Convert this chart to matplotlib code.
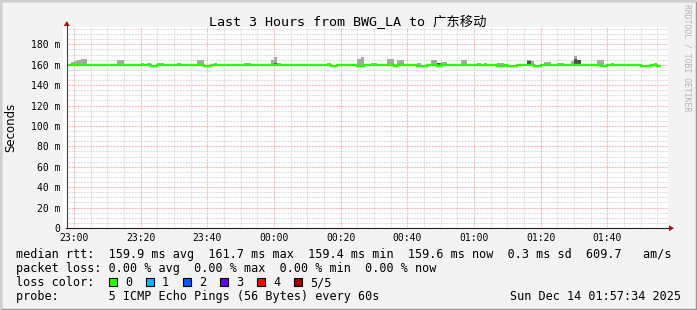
import numpy as np
import matplotlib
matplotlib.use('Agg')
import matplotlib.pyplot as plt
from matplotlib.patches import Rectangle, Polygon
from matplotlib.lines import Line2D

# ---------------- data ----------------
# minutes relative to 23:00 (one RRD step = 60 s)
minutes = list(range(-2, 176))

median_ms = [
    160, 160, 160, 160, 160, 160, 160, 160, 160, 160,            # -2..7
    160, 160, 160, 160, 160, 160, 160, 160, 160, 160,            # 8..17
    160, 160, 160, 160, 160, 158.5, 158.5, 160, 160, 160,        # 18..27
    160, 160, 160, 160, 160, 160, 160, 160, 160, 160,            # 28..37
    160, 158.5, 158.5, 160, 160, 160, 160, 160, 160, 160,        # 38..47
    160, 160, 160, 160, 160, 160, 160, 160, 160, 160,            # 48..57
    160, 160, 160, 160, 160, 160, 160, 160, 160, 160,            # 58..67
    160, 160, 160, 160, 160, 160, 160, 160, 160, 158.5,          # 68..77
    158.5, 160, 160, 160, 160, 160, 160, 158.5, 158.5, 160,      # 78..87
    160, 160, 160, 160, 160, 160, 160, 160, 158.5, 160,          # 88..97
    160, 160, 160, 160, 160, 158.5, 158.5, 158.5, 160, 160,      # 98..107
    160, 158.5, 160, 160, 160, 160, 160, 160, 160, 160,          # 108..117
    160, 160, 160, 160, 160, 160, 160, 160, 160, 158.5,          # 118..127
    158.5, 160, 158.5, 158.5, 158.5, 160, 160, 160, 160, 160,    # 128..137
    158.5, 158.5, 160, 160, 160, 160, 160, 160, 160, 160,        # 138..147
    160, 160, 160, 160, 160, 160, 160, 160, 160, 160,            # 148..157
    158.5, 158.5, 160, 160, 160, 160, 160, 160, 160, 160,        # 158..167
    160, 160, 158.5, 158.5, 158.5, 160, 160, 158.5,              # 168..175
]

smoke_top_ms = [
    160, 163, 163.5, 164.5, 166, 166, 160, 160, 160, 160,        # -2..7
    160, 160, 160, 160, 160, 164.5, 164.5, 160, 160, 160,        # 8..17
    160, 160, 162, 160, 162, 158.5, 158.5, 162, 162, 160,        # 18..27
    160, 160, 160, 162, 160, 160, 160, 160, 160, 165,            # 28..37
    165, 158.5, 158.5, 160, 162, 160, 160, 160, 160, 160,        # 38..47
    160, 160, 160, 162, 162, 160, 160, 160, 160, 160,            # 48..57
    160, 165, 168, 162, 160, 160, 160, 160, 160, 160,            # 58..67
    160, 160, 160, 160, 160, 160, 160, 160, 162, 158.5,          # 68..77
    158.5, 160, 160, 160, 160, 160, 160, 166, 168, 160,          # 78..87
    160, 162, 162, 160, 160, 160, 166, 166, 158.5, 165,          # 88..97
    165, 160, 160, 160, 160, 162, 158.5, 158.5, 160, 165,        # 98..107
    165, 158.5, 162.5, 162.5, 160, 160, 160, 160, 165, 165,      # 108..117
    160, 160, 160, 162, 160, 162, 160, 160, 160, 162,            # 118..127
    162, 160, 158.5, 158.5, 158.5, 160, 160, 160, 165, 164,      # 128..137
    158.5, 158.5, 160, 163, 163, 160, 160, 162, 162, 160,        # 138..147
    160, 164, 169, 165, 160, 160, 160, 160, 160, 165,            # 148..157
    165, 158.5, 160, 162, 160, 160, 160, 160, 160, 160,          # 158..167
    160, 160, 158.5, 158.5, 158.5, 160, 162, 158.5,              # 168..175
]

dark_minutes = [60, 109, 136, 150, 151]
dark_low_ms = [159, 160, 160, 160, 160]
dark_high_ms = [162, 161.5, 163.5, 165.5, 165]

x_tick_minutes = [0, 20, 40, 60, 80, 100, 120, 140, 160]
x_tick_labels = ['23:00', '23:20', '23:40', '00:00', '00:20', '00:40',
                 '01:00', '01:20', '01:40']
y_tick_values = [0, 20, 40, 60, 80, 100, 120, 140, 160, 180]
y_tick_labels = ['0', '20 m', '40 m', '60 m', '80 m', '100 m', '120 m',
                 '140 m', '160 m', '180 m']

title = 'Last 3 Hours from BWG_LA to 广东移动'
stat_line1 = 'median rtt:  159.9 ms avg  161.7 ms max  159.4 ms min  159.6 ms now  0.3 ms sd  609.7   am/s'
stat_line2 = 'packet loss: 0.00 % avg  0.00 % max  0.00 % min  0.00 % now'
loss_title = 'loss color:'
loss_labels = ['0', '1', '2', '3', '4', '5/5']
loss_colors = ['#26ff00', '#00b8ff', '#0059ff', '#5e00ff', '#ff0000', '#a00000']
probe_line = 'probe:       5 ICMP Echo Pings (56 Bytes) every 60s'
date_text = 'Sun Dec 14 01:57:34 2025'
watermark = 'RRDTOOL / TOBI OETIKER'

# ---------------- layout helpers ----------------
W, H = 697, 310


def fx(x):
    return x / W


def fy(y):
    return 1 - y / H


MONO = ['DejaVu Sans Mono', 'Noto Sans CJK SC']

fig = plt.figure(figsize=(W / 100, H / 100), dpi=100, facecolor='#f3f3f3')

# frame shading
fig.add_artist(Rectangle((0, 0), 1, 1, transform=fig.transFigure,
                         fill=False, edgecolor='#999999', lw=2.5, zorder=0))
fig.add_artist(Line2D([fx(1), fx(1)], [fy(0), fy(309)], transform=fig.transFigure,
                      color='#cfcfcf', lw=1.5, zorder=1))
fig.add_artist(Line2D([fx(0), fx(696)], [fy(1), fy(1)], transform=fig.transFigure,
                      color='#cfcfcf', lw=1.5, zorder=1))

# small white strip left of the axis
fig.add_artist(Rectangle((fx(63), fy(228)), fx(4), fy(27) - fy(228),
                         transform=fig.transFigure, facecolor='white',
                         edgecolor='none', zorder=0.5))

ax = fig.add_axes([fx(67), fy(228), fx(668) - fx(67), fy(27) - fy(228)])
ax.set_facecolor('white')
for s in ax.spines.values():
    s.set_visible(False)

edges = minutes + [minutes[-1] + 1]

ax.stairs(smoke_top_ms, edges, baseline=median_ms, fill=True,
          color='#a8a8a8', lw=0, zorder=2)
ax.bar(dark_minutes, np.array(dark_high_ms) - np.array(dark_low_ms),
       bottom=dark_low_ms, width=1, align='edge', color='#505050', lw=0, zorder=3)
ax.stairs(median_ms, edges, baseline=None, color='#26ff00', lw=1.7, zorder=4)

ax.set_xlim(-2.1, 178.2)
ax.set_ylim(0, 197)

ax.set_xticks(x_tick_minutes)
ax.set_xticklabels(x_tick_labels)
ax.set_xticks([m for m in range(0, 180, 5) if m not in x_tick_minutes], minor=True)
ax.set_yticks(y_tick_values)
ax.set_yticklabels(y_tick_labels)
ax.set_yticks([v for v in range(0, 200, 5) if v not in y_tick_values], minor=True)

ax.tick_params(which='both', length=0)
ax.tick_params(axis='x', which='major', pad=3.4, labelsize=7)
ax.tick_params(axis='y', which='major', pad=5, labelsize=7)
for lab in ax.get_xticklabels() + ax.get_yticklabels():
    lab.set_family('DejaVu Sans Mono')

ax.set_axisbelow(True)
ax.grid(which='minor', color='#d2d2d2', lw=0.75, linestyle=(0, (0.72, 0.72)))
ax.grid(which='major', color='#f5a0a0', lw=0.75, linestyle=(0, (0.72, 0.72)))

# axes lines and arrows
fig.add_artist(Line2D([fx(66.8), fx(66.8)], [fy(228), fy(25)], transform=fig.transFigure,
                      color='#404040', lw=0.8, zorder=5))
fig.add_artist(Line2D([fx(66), fx(670)], [fy(228.2), fy(228.2)], transform=fig.transFigure,
                      color='#202020', lw=0.8, zorder=5))
fig.add_artist(Polygon([(fx(63.8), fy(26)), (fx(69.8), fy(26)), (fx(66.8), fy(21))],
                       closed=True, transform=fig.transFigure,
                       facecolor='#9a1515', edgecolor='none', zorder=6))
fig.add_artist(Polygon([(fx(669), fy(225.2)), (fx(669), fy(231.2)), (fx(674), fy(228.2))],
                       closed=True, transform=fig.transFigure,
                       facecolor='#9a1515', edgecolor='none', zorder=6))

# texts
fig.text(fx(347.5), fy(26.5), title, ha='center', va='baseline',
         fontsize=9.6, family=MONO)
fig.text(fx(10.5), fy(127.5), 'Seconds', rotation=90, ha='center', va='center',
         fontsize=8.5, family='DejaVu Sans')
fig.text(fx(687.5), fy(4), watermark, rotation=270, ha='center', va='top',
         fontsize=5.9, family='DejaVu Sans Mono', color='#b4b4b4')

LX = 16
CW = 7.1
fig.text(fx(LX), fy(258), stat_line1, ha='left', va='baseline', fontsize=8.5, family=MONO)
fig.text(fx(LX), fy(272), stat_line2, ha='left', va='baseline', fontsize=8.5, family=MONO)
fig.text(fx(LX), fy(286), loss_title, ha='left', va='baseline', fontsize=8.5, family=MONO)
for i, (lab, col) in enumerate(zip(loss_labels, loss_colors)):
    bx = LX + 13 * CW + 0.5 + i * 37.1
    fig.add_artist(Rectangle((fx(bx), fy(285.8)), fx(8), fy(277.8) - fy(285.8),
                             transform=fig.transFigure, facecolor=col,
                             edgecolor='black', lw=0.8, zorder=5))
    fig.text(fx(bx + 16), fy(286), lab, ha='left', va='baseline', fontsize=8.5, family=MONO)
fig.text(fx(LX), fy(300), probe_line, ha='left', va='baseline', fontsize=8.5, family=MONO)
fig.text(fx(680.5), fy(300), date_text, ha='right', va='baseline', fontsize=8.5, family=MONO)

fig.savefig('out.png', dpi=100, facecolor=fig.get_facecolor())
